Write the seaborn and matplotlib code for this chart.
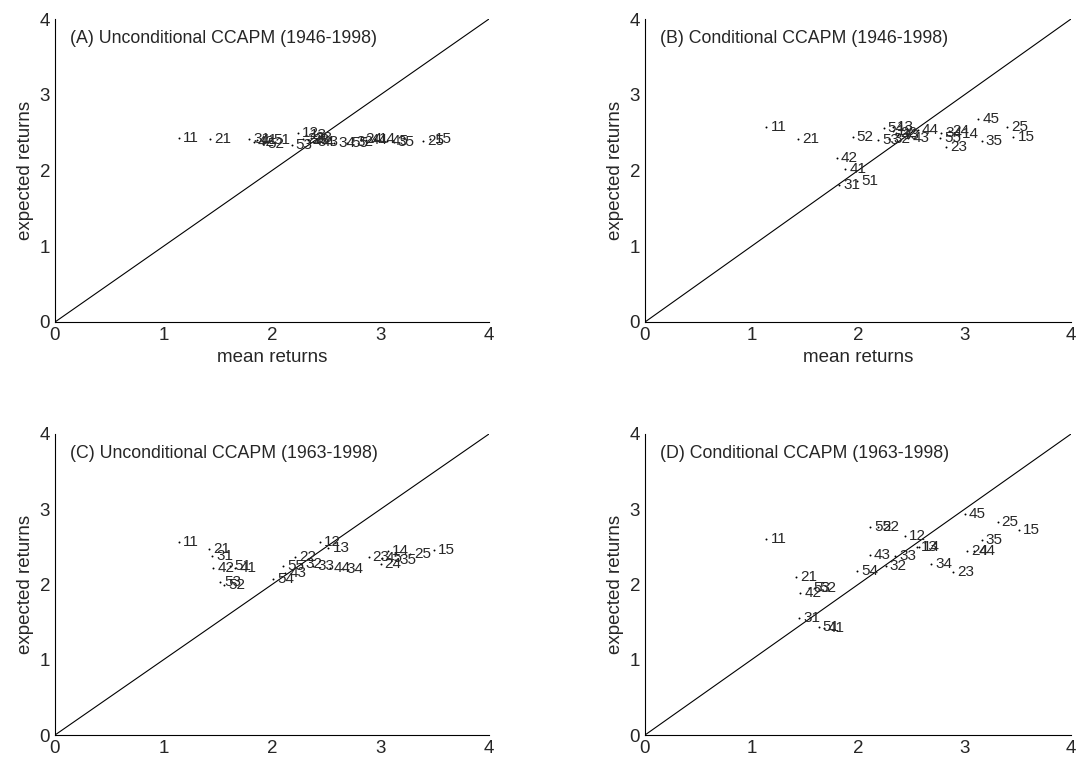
import pandas as pd
import matplotlib
matplotlib.use("Agg")
import matplotlib.pyplot as plt
import seaborn as sns

# portfolio labels (size quintile, book-to-market quintile)
labels = ["11", "12", "13", "14", "15",
          "21", "22", "23", "24", "25",
          "31", "32", "33", "34", "35",
          "41", "42", "43", "44", "45",
          "51", "52", "53", "54", "55"]

# (A) unconditional 1946-1998
mean_a = [1.14, 2.24, 2.31, 2.95, 3.46,
          1.43, 2.29, 2.33, 2.82, 3.39,
          1.79, 2.74, 2.36, 2.57, 3.12,
          1.86, 1.83, 2.42, 2.87, 3.06,
          1.97, 1.92, 2.18, 2.38, 2.69]
exp_a = [2.43, 2.49, 2.47, 2.41, 2.41,
         2.42, 2.42, 2.40, 2.41, 2.39,
         2.41, 2.37, 2.43, 2.36, 2.37,
         2.40, 2.37, 2.37, 2.40, 2.39,
         2.40, 2.35, 2.34, 2.38, 2.36]

# (B) conditional 1946-1998
mean_b = [1.14, 2.33, 2.33, 2.94, 3.46,
          1.44, 2.36, 2.83, 2.85, 3.40,
          1.82, 2.29, 2.38, 2.78, 3.16,
          1.88, 1.80, 2.47, 2.56, 3.13,
          1.99, 1.95, 2.19, 2.24, 2.77]
exp_b = [2.57, 2.52, 2.57, 2.48, 2.44,
         2.41, 2.50, 2.31, 2.52, 2.57,
         1.81, 2.42, 2.47, 2.50, 2.39,
         2.02, 2.17, 2.43, 2.53, 2.68,
         1.86, 2.44, 2.40, 2.56, 2.43]

# (C) unconditional 1963-1998
mean_c = [1.14, 2.44, 2.52, 3.07, 3.49,
          1.42, 2.21, 2.89, 3.00, 3.27,
          1.45, 2.27, 2.38, 2.65, 3.14,
          1.66, 1.46, 2.12, 2.53, 3.01,
          1.61, 1.56, 1.52, 2.01, 2.10]
exp_c = [2.57, 2.56, 2.49, 2.45, 2.46,
         2.47, 2.36, 2.37, 2.27, 2.41,
         2.38, 2.27, 2.25, 2.20, 2.33,
         2.22, 2.22, 2.15, 2.22, 2.35,
         2.25, 1.99, 2.03, 2.07, 2.25]

# (D) conditional 1963-1998
mean_d = [1.14, 2.44, 2.55, 2.57, 3.51,
          1.42, 2.19, 2.89, 3.02, 3.31,
          1.45, 2.26, 2.35, 2.69, 3.16,
          1.68, 1.46, 2.11, 3.09, 3.00,
          1.63, 1.60, 1.54, 1.99, 2.11]
exp_d = [2.60, 2.64, 2.50, 2.50, 2.73,
         2.10, 2.76, 2.16, 2.44, 2.83,
         1.56, 2.25, 2.38, 2.27, 2.59,
         1.42, 1.89, 2.39, 2.44, 2.94,
         1.44, 1.96, 1.96, 2.18, 2.76]

titles = ["(A) Unconditional CCAPM (1946-1998)",
          "(B) Conditional CCAPM (1946-1998)",
          "(C) Unconditional CCAPM (1963-1998)",
          "(D) Conditional CCAPM (1963-1998)"]
panels = [(mean_a, exp_a), (mean_b, exp_b), (mean_c, exp_c), (mean_d, exp_d)]

sns.set_style("white")
plt.rcParams['font.family'] = ['Liberation Sans', 'DejaVu Sans']

fig = plt.figure(figsize=(10.76, 7.57), dpi=100)
W, H = 1076, 757
boxes = [(55, 489, 19, 322), (645, 1071, 19, 322),
         (55, 489, 434, 735), (645, 1071, 434, 735)]

for i, ((x, y), (l, r, t, b)) in enumerate(zip(panels, boxes)):
    ax = fig.add_axes([l / W, (H - b) / H, (r - l) / W, (b - t) / H])
    df = pd.DataFrame({"mean": x, "expected": y, "label": labels})
    ax.plot([0, 4], [0, 4], color="black", lw=0.8)
    sns.scatterplot(data=df, x="mean", y="expected", ax=ax, color="black",
                    s=2, marker="o", edgecolor=None, linewidth=0)
    for _, row in df.iterrows():
        ax.annotate(row["label"], (row["mean"], row["expected"]),
                    xytext=(3, 0), textcoords="offset points",
                    ha="left", va="center", fontsize=11)
    ax.set_xlim(0, 4)
    ax.set_ylim(0, 4)
    ax.set_xticks([0, 1, 2, 3, 4])
    ax.set_yticks([0, 1, 2, 3, 4])
    ax.tick_params(direction="in", length=3, labelsize=13.5, width=0.6)
    sns.despine(ax=ax)
    for side in ["left", "bottom"]:
        ax.spines[side].set_color("black")
        ax.spines[side].set_linewidth(0.8)
    ax.text(0.035, 0.965, titles[i], transform=ax.transAxes,
            ha="left", va="top", fontsize=12.8)
    ax.set_ylabel("expected returns", fontsize=13.5)
    if i < 2:
        ax.set_xlabel("mean returns", fontsize=13.5)
    else:
        ax.set_xlabel("")

fig.savefig("out.png", dpi=100, facecolor="white")
